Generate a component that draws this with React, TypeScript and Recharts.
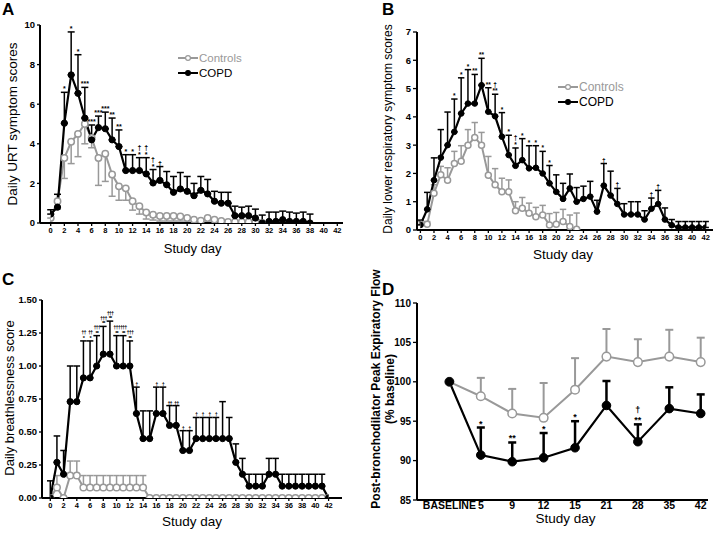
import React from 'react';
import { LineChart, Line, XAxis, YAxis, ErrorBar, LabelList, Legend } from 'recharts';

const FONT = '"Liberation Sans", Arial, Helvetica, sans-serif';
const GRAY = '#999999';
const BLACK = '#000000';

// ---------- shared ----------
const days = Array.from({ length: 43 }, (_, i) => i);
const evenTicks = [0, 2, 4, 6, 8, 10, 12, 14, 16, 18, 20, 22, 24, 26, 28, 30, 32, 34, 36, 38, 40, 42];
const seriesOrder = ['Controls', 'COPD'];

// ---------- Panel A: Daily URT symptom scores ----------
const aCopd = [0.45, 0.8, 5.04, 7.48, 6.55, 5.3, 4.2, 4.82, 4.76, 4.2, 3.86, 2.65, 2.65, 2.65, 2.48, 2.02, 2.15, 1.93, 1.55, 1.72, 1.6, 1.38, 1.65, 1.47, 1.1, 1.0, 1.0, 0.37, 0.37, 0.37, 0.25, 0.0, 0.08, 0.08, 0.17, 0.08, 0.08, 0.08, 0.0];
const aCopdErr = [0.22, 0.65, 1.56, 2.17, 1.95, 1.55, 0.75, 0.58, 0.84, 1.1, 0.84, 0.8, 0.8, 0.65, 0.82, 0.68, 0.7, 0.67, 0.8, 0.83, 0.75, 0.62, 0.7, 0.73, 0.5, 0.55, 0.55, 0.48, 0.43, 0.48, 0.45, 0.4, 0.47, 0.47, 0.43, 0.47, 0.42, 0.47, 0.45];
const aCtrl = [0.25, 1.1, 3.28, 4.1, 4.5, 5.0, 4.3, 3.28, 3.5, 2.45, 1.85, 1.75, 1.1, 0.85, 0.53, 0.42, 0.35, 0.35, 0.35, 0.33, 0.25, 0.17, 0.12, 0.25, 0.17, 0.1, 0.05, 0.05, 0.05, 0.05, 0.05, 0.0];
const aCtrlErr = [0.25, 0.4, 1.03, 1.1, 1.15, 1.0, 0.5, 1.38, 1.4, 1.1, 0.7, 0.6, 0.45, 0.4, 0.33, 0.27, 0.25, 0.25, 0.25, 0.23, 0.2, 0.15, 0.1, 0.2, 0.15, 0.1, 0.05, 0.05, 0.05, 0.05, 0.05, 0];
const aSigDays = [2, 3, 4, 5, 6, 7, 8, 9, 10, 11, 12, 13, 14, 15, 16];
const aSigMarks = ['*', '*', '*', '***', '***', '***', '***', '**', '**', '*', '*', '†\n*', '†\n*', '†\n*', '†'];
const aTicksY = [0, 2, 4, 6, 8, 10];

// ---------- Panel B: Daily lower respiratory symptom scores ----------
const bCopd = [0.18, 0.73, 1.76, 2.56, 3.0, 3.47, 4.12, 4.47, 4.47, 5.12, 4.18, 4.02, 3.3, 2.65, 2.27, 2.47, 2.18, 2.2, 2.0, 1.65, 1.35, 1.1, 1.47, 1.0, 1.1, 1.18, 0.65, 1.57, 1.22, 0.92, 0.55, 0.55, 0.55, 0.37, 0.75, 0.92, 0.37, 0.17, 0.09, 0.09, 0.09, 0.09, 0.09];
const bCopdErr = [0.17, 0.6, 0.79, 0.99, 1.17, 1.16, 1.26, 1.2, 1.03, 0.95, 0.85, 0.78, 0.85, 0.7, 0.63, 0.76, 0.8, 0.78, 0.78, 0.63, 0.6, 0.55, 0.51, 0.5, 0.45, 0.54, 0.4, 0.78, 0.86, 0.55, 0.38, 0.45, 0.45, 0.31, 0.38, 0.48, 0.41, 0.2, 0.21, 0.21, 0.21, 0.21, 0.21];
const bCtrl = [0.2, 0.2, 1.3, 1.95, 1.76, 2.35, 2.43, 3.0, 3.27, 3.0, 1.94, 1.6, 1.35, 1.35, 0.68, 0.77, 0.59, 0.47, 0.53, 0.18, 0.2, 0.3, 0.12, 0.03];
const bCtrlErr = [0.1, 0.1, 0.3, 0.3, 0.44, 0.43, 0.55, 0.55, 0.53, 0.45, 0.66, 0.57, 0.48, 0.42, 0.32, 0.38, 0.36, 0.33, 0.34, 0.4, 0.42, 0.43, 0.41, 0.57];
const bSigDays = [5, 6, 7, 8, 9, 10, 11, 12, 13, 14, 15, 16, 17, 18, 19, 27, 29, 34, 35];
const bSigMarks = ['*', '*', '*', '**', '**', '**', '†\n**', '*', '*', '†\n*', '*', '*', '*', '*', '*', '†', '†', '†', '†'];
const bTicksY = [0, 1, 2, 3, 4, 5, 6, 7];

// ---------- Panel C: Daily breathlessness score ----------
const cCopd = [0, 0.27, 0.18, 0.73, 0.73, 0.91, 0.91, 1.0, 1.09, 1.09, 1.0, 1.0, 1.0, 0.64, 0.45, 0.45, 0.64, 0.64, 0.55, 0.55, 0.36, 0.36, 0.45, 0.45, 0.45, 0.45, 0.45, 0.45, 0.27, 0.18, 0.09, 0.09, 0.09, 0.18, 0.18, 0.09, 0.09, 0.09, 0.09, 0.09, 0.09, 0.09, 0];
const cCopdErr = [0.13, 0.2, 0.18, 0.27, 0.27, 0.28, 0.28, 0.23, 0.21, 0.25, 0.23, 0.23, 0.19, 0.2, 0.21, 0.21, 0.2, 0.2, 0.15, 0.15, 0.15, 0.15, 0.16, 0.16, 0.16, 0.16, 0.28, 0.16, 0.14, 0.12, 0.09, 0.09, 0.09, 0.12, 0.12, 0.09, 0.09, 0.09, 0.09, 0.09, 0.09, 0.09, 0];
const cCtrl = [0, 0.08, 0, 0.17, 0.17, 0.08, 0.08, 0.08, 0.08, 0.08, 0.08, 0.08, 0.08, 0.08, 0.08, 0, 0, 0, 0, 0, 0, 0, 0, 0, 0, 0, 0, 0, 0, 0, 0, 0, 0, 0, 0, 0, 0, 0, 0, 0, 0, 0, 0];
const cCtrlErr = [0, 0.09, 0, 0.11, 0.11, 0.09, 0.09, 0.09, 0.09, 0.09, 0.09, 0.09, 0.09, 0.09, 0.09, 0, 0, 0, 0, 0, 0, 0, 0, 0, 0, 0, 0, 0, 0, 0, 0, 0, 0, 0, 0, 0, 0, 0, 0, 0, 0, 0, 0];
const cSigDays = [5, 6, 7, 8, 9, 10, 11, 12, 13, 16, 17, 18, 19, 20, 21, 22, 23, 24, 25];
const cSigMarks = ['††\n*', '††\n*', '†††\n**', '†††\n**', '†††\n**', '†††\n**', '†††\n**', '†††\n**', '†', '†', '†', '††', '††', '†', '†', '†', '†', '†', '†'];
const cTicksY = [0, 0.25, 0.5, 0.75, 1.0, 1.25, 1.5];

// ---------- Panel D: Post-bronchodilator PEF ----------
const dLabels = ['BASELINE', '5', '9', '12', '15', '21', '28', '35', '42'];
const dCtrl = [100, 98.17, 95.98, 95.43, 99.0, 103.2, 102.5, 103.2, 102.5];
const dCtrlErr = [0, 2.33, 3.12, 4.42, 4.0, 3.5, 2.9, 3.4, 3.1];
const dCopd = [100, 90.7, 89.86, 90.36, 91.63, 97.0, 92.4, 96.6, 95.98];
const dCopdErr = [0, 3.5, 2.44, 3.14, 3.37, 3.1, 2.2, 2.7, 2.42];
const dSig = ['', '*', '**', '*', '*', '', '†\n**', '', ''];
const dTicksY = [85, 90, 95, 100, 105, 110];

// ---------- table builders ----------
function buildDayTable(copd: number[], copdErr: number[], ctrl: number[], ctrlErr: number[], sigDays: number[], sigMarks: string[], ctrlDown: boolean) {
  return days.map((d, i) => {
    const sIdx = sigDays.indexOf(d);
    const c = copd[i];
    const k = ctrl[i];
    return {
      day: d,
      copd: c,
      copdE: c === undefined || !copdErr[i] ? undefined : [0, copdErr[i]],
      top: c === undefined ? undefined : c + (copdErr[i] || 0),
      sig: sIdx >= 0 ? sigMarks[sIdx] : '',
      ctrl: k,
      ctrlE: k === undefined || !ctrlErr[i] ? undefined : ctrlDown ? [ctrlErr[i], 0] : [0, ctrlErr[i]],
    };
  });
}

const aData = buildDayTable(aCopd, aCopdErr, aCtrl, aCtrlErr, aSigDays, aSigMarks, true);
const bData = buildDayTable(bCopd, bCopdErr, bCtrl, bCtrlErr, bSigDays, bSigMarks, false);
const cData = buildDayTable(cCopd, cCopdErr, cCtrl, cCtrlErr, cSigDays, cSigMarks, false);
const dData = dLabels.map((label, i) => ({
  label,
  copd: dCopd[i],
  copdE: dCopdErr[i] ? [0, dCopdErr[i]] : undefined,
  top: dCopd[i] + dCopdErr[i],
  sig: dSig[i],
  ctrl: dCtrl[i],
  ctrlE: dCtrlErr[i] ? [0, dCtrlErr[i]] : undefined,
}));

// ---------- renderers ----------
const xTitle = (dy: number, dx: number, size: number) => (props: any) => {
  const vb = props.viewBox || {};
  return (
    <text x={vb.x + vb.width / 2 + dx} y={vb.y + dy} textAnchor="middle" fontSize={size} fontFamily={FONT} fill={BLACK}>
      Study day
    </text>
  );
};

const yTitle = (lines: string[], dxs: number[], dy: number, size: number, bold: boolean) => (props: any) => {
  const vb = props.viewBox || {};
  const cy = vb.y + vb.height / 2 + dy;
  return (
    <g>
      {lines.map((l, i) => {
        const cx = vb.x + dxs[i];
        return (
          <text key={i} x={cx} y={cy} transform={`rotate(-90 ${cx} ${cy})`} textAnchor="middle" dominantBaseline="central"
            fontSize={size} fontWeight={bold ? 700 : 400} fontFamily={FONT} fill={BLACK}>
            {l}
          </text>
        );
      })}
    </g>
  );
};

const sigContent = (size: number, lh: number, base: number, spacing: number) => (p: any) => {
  const v = p.value;
  if (!v) return null;
  const x = p.viewBox && p.viewBox.x !== undefined ? p.viewBox.x : p.x;
  const y = p.viewBox && p.viewBox.y !== undefined ? p.viewBox.y : p.y;
  const lines = String(v).split('\n');
  return (
    <g>
      {lines.map((l, i) => (
        <text key={i} x={x} y={y + base - (lines.length - 1 - i) * lh} textAnchor="middle" fontSize={size}
          fontWeight={700} fontFamily={FONT} fill={BLACK} letterSpacing={spacing}>
          {l}
        </text>
      ))}
    </g>
  );
};

const legendContent = (fontSize: number) => (props: any) => {
  const payload = (props.payload || [])
    .filter((e: any) => e.type !== 'none' && seriesOrder.indexOf(e.value) >= 0)
    .sort((a: any, b: any) => seriesOrder.indexOf(a.value) - seriesOrder.indexOf(b.value));
  return (
    <div style={{ fontFamily: FONT, fontSize, lineHeight: '15px' }}>
      {payload.map((e: any) => (
        <div key={e.value} style={{ display: 'flex', alignItems: 'center', color: e.color, height: 15 }}>
          <svg width={20} height={10} style={{ display: 'block' }}>
            <line x1={0} y1={5} x2={20} y2={5} stroke={e.color} strokeWidth={2} />
            <circle cx={10} cy={5} r={2.4} fill={e.value === 'Controls' ? '#fff' : e.color} stroke={e.color} strokeWidth={1.2} />
          </svg>
          <span style={{ marginLeft: 1 }}>{e.value}</span>
        </div>
      ))}
    </div>
  );
};

const axisLine = { stroke: BLACK, strokeWidth: 2 };
const tickLine = { stroke: BLACK, strokeWidth: 1.3 };
const xTick = { fontSize: 7.5, fontWeight: 700, fill: BLACK, fontFamily: FONT };
const yTick = { fontSize: 9.5, fontWeight: 700, fill: BLACK, fontFamily: FONT };

export default function App() {
  return (
    <div style={{ position: 'absolute', left: 0, top: 0, width: 718, height: 537, background: '#fff', overflow: 'hidden' }}>
      {/* Panel A */}
      <div style={{ position: 'absolute', left: 0, top: 0 }}>
        <LineChart width={358} height={268} data={aData} margin={{ top: 25, right: 15, bottom: 0, left: 0 }}>
          <XAxis dataKey="day" type="number" domain={[0, 42]} ticks={evenTicks} interval={0} allowDataOverflow
            padding={{ left: 10.7, right: 5.7 }} height={45} axisLine={axisLine} tickLine={tickLine} tickSize={3}
            tick={xTick} label={xTitle(29.7, 1.2, 13)} />
          <YAxis type="number" domain={[0, 10]} ticks={aTicksY} interval={0} allowDataOverflow width={40}
            axisLine={axisLine} tickLine={tickLine} tickSize={3} tick={yTick}
            label={yTitle(['Daily URT symptom scores'], [12.5], 0, 13.5, false)} />
          <Line dataKey="ctrl" name="Controls" type="linear" stroke={GRAY} strokeWidth={2} isAnimationActive={false}
            dot={{ r: 3.2, fill: '#fff', stroke: GRAY, strokeWidth: 1.5 }} activeDot={false}>
            <ErrorBar dataKey="ctrlE" direction="y" width={3.5} stroke={GRAY} strokeWidth={1.5} />
          </Line>
          <Line dataKey="copd" name="COPD" type="linear" stroke={BLACK} strokeWidth={2.2} isAnimationActive={false}
            dot={{ r: 3.1, fill: BLACK, stroke: BLACK, strokeWidth: 1 }} activeDot={false}>
            <ErrorBar dataKey="copdE" direction="y" width={3.5} stroke={BLACK} strokeWidth={1.5} />
          </Line>
          <Line dataKey="top" stroke="none" dot={false} activeDot={false} legendType="none" isAnimationActive={false}>
            <LabelList dataKey="sig" content={sigContent(7, 6.5, -1, 0)} />
          </Line>
          <Legend layout="vertical" align="center" verticalAlign="middle" content={legendContent(11.5)}
            wrapperStyle={{ left: 178, top: 50.5, width: 100, height: 32 }} />
        </LineChart>
      </div>

      {/* Panel B */}
      <div style={{ position: 'absolute', left: 358, top: 0 }}>
        <LineChart width={360} height={268} data={bData} margin={{ top: 32, right: 5, bottom: 0, left: 0 }}>
          <XAxis dataKey="day" type="number" domain={[0, 42]} ticks={evenTicks} interval={0} allowDataOverflow
            padding={{ left: 3.4, right: 7.3 }} height={38} axisLine={axisLine} tickLine={tickLine} tickSize={3}
            tick={xTick} label={xTitle(29, -2, 13.5)} />
          <YAxis type="number" domain={[0, 7]} ticks={bTicksY} interval={0} allowDataOverflow width={59}
            axisLine={axisLine} tickLine={tickLine} tickSize={4} tick={yTick}
            label={yTitle(['Daily lower respiratory symptom scores'], [30], -2, 12, false)} />
          <Line dataKey="ctrl" name="Controls" type="linear" stroke={GRAY} strokeWidth={2} isAnimationActive={false}
            dot={{ r: 3, fill: '#fff', stroke: GRAY, strokeWidth: 1.5 }} activeDot={false}>
            <ErrorBar dataKey="ctrlE" direction="y" width={3.2} stroke={GRAY} strokeWidth={1.5} />
          </Line>
          <Line dataKey="copd" name="COPD" type="linear" stroke={BLACK} strokeWidth={2.2} isAnimationActive={false}
            dot={{ r: 2.8, fill: BLACK, stroke: BLACK, strokeWidth: 1 }} activeDot={false}>
            <ErrorBar dataKey="copdE" direction="y" width={3.2} stroke={BLACK} strokeWidth={1.5} />
          </Line>
          <Line dataKey="top" stroke="none" dot={false} activeDot={false} legendType="none" isAnimationActive={false}>
            <LabelList dataKey="sig" content={sigContent(6.5, 6.5, -1, 0)} />
          </Line>
          <Legend layout="vertical" align="center" verticalAlign="middle" content={legendContent(12)}
            wrapperStyle={{ left: 200, top: 79.5, width: 100, height: 32 }} />
        </LineChart>
      </div>

      {/* Panel C */}
      <div style={{ position: 'absolute', left: 0, top: 268 }}>
        <LineChart width={358} height={269} data={cData} margin={{ top: 32, right: 16, bottom: 0, left: 0 }}>
          <XAxis dataKey="day" type="number" domain={[0, 42]} ticks={evenTicks} interval={0} allowDataOverflow
            padding={{ left: 8.3, right: 13.4 }} height={39} axisLine={axisLine} tickLine={tickLine} tickSize={3}
            tick={xTick} label={xTitle(28, 0, 13.5)} />
          <YAxis type="number" domain={[0, 1.5]} ticks={cTicksY} interval={0} allowDataOverflow width={42}
            axisLine={axisLine} tickLine={tickLine} tickSize={3} tick={yTick}
            tickFormatter={(v: number) => v.toFixed(2)}
            label={yTitle(['Daily breathlessness score'], [9.5], -1, 13, false)} />
          <Line dataKey="ctrl" name="Controls" type="linear" stroke={GRAY} strokeWidth={2} isAnimationActive={false}
            dot={{ r: 3.3, fill: '#fff', stroke: GRAY, strokeWidth: 1.5 }} activeDot={false}>
            <ErrorBar dataKey="ctrlE" direction="y" width={3.3} stroke={GRAY} strokeWidth={1.5} />
          </Line>
          <Line dataKey="copd" name="COPD" type="linear" stroke={BLACK} strokeWidth={2.2} isAnimationActive={false}
            dot={{ r: 3.1, fill: BLACK, stroke: BLACK, strokeWidth: 1 }} activeDot={false}>
            <ErrorBar dataKey="copdE" direction="y" width={3.3} stroke={BLACK} strokeWidth={1.5} />
          </Line>
          <Line dataKey="top" stroke="none" dot={false} activeDot={false} legendType="none" isAnimationActive={false}>
            <LabelList dataKey="sig" content={sigContent(5.5, 5.5, -1, -0.9)} />
          </Line>
        </LineChart>
      </div>

      {/* Panel D */}
      <div style={{ position: 'absolute', left: 358, top: 268 }}>
        <LineChart width={360} height={269} data={dData} margin={{ top: 35, right: 10, bottom: 0, left: 0 }}>
          <XAxis dataKey="label" type="category" interval={0} padding={{ left: 32.4, right: 7.3 }} height={37}
            axisLine={axisLine} tickLine={false} tickSize={0} tickMargin={1.5}
            tick={{ fontSize: 10.5, fontWeight: 700, fill: BLACK, fontFamily: FONT }} label={xTitle(23.2, 3, 13.5)} />
          <YAxis type="number" domain={[85, 110]} ticks={dTicksY} interval={0} allowDataOverflow width={59}
            axisLine={axisLine} tickLine={tickLine} tickSize={4}
            tick={{ fontSize: 10, fontWeight: 700, fill: BLACK, fontFamily: FONT }}
            label={yTitle(['Post-bronchodilator Peak Expiratory Flow', '(% baseline)'], [18, 32], -12.5, 12, true)} />
          <Line dataKey="ctrl" name="Controls" type="linear" stroke={GRAY} strokeWidth={2} isAnimationActive={false}
            dot={{ r: 4.3, fill: '#fff', stroke: GRAY, strokeWidth: 1.5 }} activeDot={false}>
            <ErrorBar dataKey="ctrlE" direction="y" width={4} stroke={GRAY} strokeWidth={2} />
          </Line>
          <Line dataKey="copd" name="COPD" type="linear" stroke={BLACK} strokeWidth={2.2} isAnimationActive={false}
            dot={{ r: 4.3, fill: BLACK, stroke: BLACK, strokeWidth: 1 }} activeDot={false}>
            <ErrorBar dataKey="copdE" direction="y" width={4} stroke={BLACK} strokeWidth={2.5} />
          </Line>
          <Line dataKey="top" stroke="none" dot={false} activeDot={false} legendType="none" isAnimationActive={false}>
            <LabelList dataKey="sig" content={sigContent(9, 10, -1, 0)} />
          </Line>
        </LineChart>
      </div>

      {/* Panel letters */}
      <svg width={718} height={537} style={{ position: 'absolute', left: 0, top: 0, pointerEvents: 'none' }}>
        <text x={2} y={15} fontSize={17} fontWeight={700} fontFamily={FONT} fill={BLACK}>A</text>
        <text x={382} y={15} fontSize={17} fontWeight={700} fontFamily={FONT} fill={BLACK}>B</text>
        <text x={2} y={285} fontSize={17} fontWeight={700} fontFamily={FONT} fill={BLACK}>C</text>
        <text x={382} y={295} fontSize={17} fontWeight={700} fontFamily={FONT} fill={BLACK}>D</text>
      </svg>
    </div>
  );
}
